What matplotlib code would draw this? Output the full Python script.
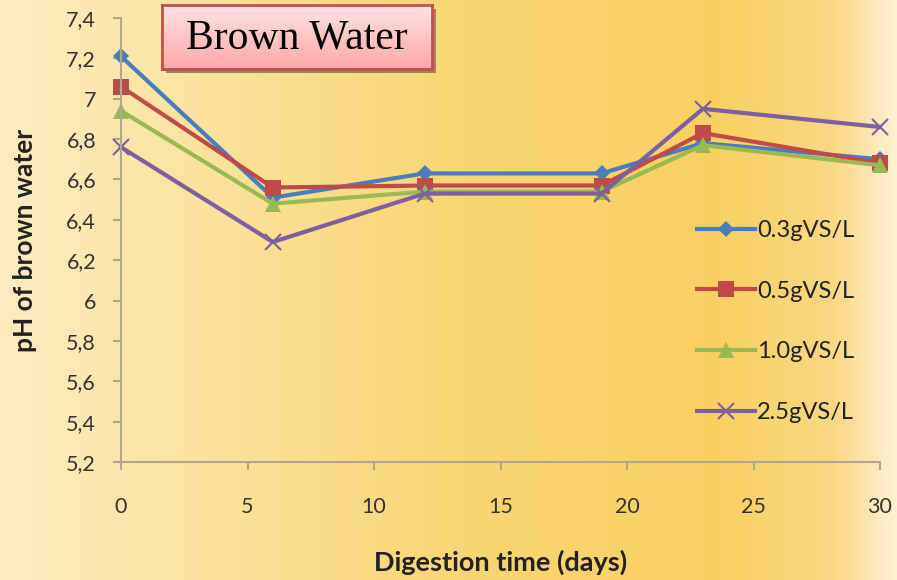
import numpy as np
import matplotlib
matplotlib.use("Agg")
import matplotlib.pyplot as plt
from matplotlib.colors import LinearSegmentedColormap
from matplotlib.patches import Rectangle
from matplotlib.ticker import FuncFormatter

# data
days = [0, 6, 12, 19, 23, 30]
ph_03 = [7.21, 6.51, 6.63, 6.63, 6.78, 6.70]
ph_05 = [7.06, 6.56, 6.57, 6.57, 6.83, 6.68]
ph_10 = [6.94, 6.48, 6.54, 6.54, 6.77, 6.67]
ph_25 = [6.76, 6.29, 6.53, 6.53, 6.95, 6.86]
labels = ['0.3gVS/L', '0.5gVS/L', '1.0gVS/L', '2.5gVS/L']

W, H = 897, 580
fig = plt.figure(figsize=(W / 100, H / 100), dpi=100)

# yellow background gradient
bg = fig.add_axes([0, 0, 1, 1], zorder=-10)
bg_cmap = LinearSegmentedColormap.from_list(
    'bg', [(0, '#fcecbe'), (0.25, '#fae29a'), (0.5, '#f9d676'),
           (0.8, '#f8d062'), (0.93, '#fad884'), (1, '#fdf1d2')])
grad = np.tile(np.linspace(0, 1, 256), (2, 1))
bg.imshow(grad, aspect='auto', cmap=bg_cmap, extent=[0, 1, 0, 1])
bg.axis('off')

ax = fig.add_axes([121 / W, 1 - 462 / H, (880 - 121) / W, (462 - 18) / H])
ax.patch.set_alpha(0)

colors = ['#4a7ebb', '#be4b48', '#98b954', '#7d60a0']
markers = ['D', 's', '^', 'x']
msizes = [8, 11, 11, 12]
series = [ph_03, ph_05, ph_10, ph_25]
for vals, c, m, ms, lab in zip(series, colors, markers, msizes, labels):
    ax.plot(days, vals, color=c, lw=3, marker=m, ms=ms, mew=1.5 if m == 'x' else 0,
            mec=c, mfc=c, label=lab, clip_on=False)

ax.set_xlim(0, 30)
ax.set_ylim(5.2, 7.4)
ax.set_xticks([0, 5, 10, 15, 20, 25, 30])
ax.set_yticks(np.arange(5.2, 7.41, 0.2))
ax.yaxis.set_major_formatter(FuncFormatter(
    lambda v, p: ('%g' % round(v, 1)).replace('.', ',')))

for s in ['top', 'right']:
    ax.spines[s].set_visible(False)
for s in ['left', 'bottom']:
    ax.spines[s].set_color('#b0a78c')
    ax.spines[s].set_linewidth(1.5)
ax.tick_params(colors='#b0a78c', length=6, width=1.5, labelcolor='#333333',
               labelsize=15.5)
ax.tick_params(axis='x', pad=19)
ax.tick_params(axis='y', pad=12)
for t in ax.get_xticklabels() + ax.get_yticklabels():
    t.set_fontfamily('Lato')

ax.set_xlabel('Digestion time (days)', fontsize=19.5, fontweight='bold',
              fontfamily='Lato', color='#222222', labelpad=24)
ax.set_ylabel('pH of brown water', fontsize=19, fontweight='bold',
              fontfamily='Lato', color='#222222', labelpad=21)

leg = ax.legend(loc='upper left', bbox_to_anchor=(0.759, 0.545), frameon=False,
                labelspacing=1.68, handlelength=2.45, handletextpad=0.1,
                borderpad=0, borderaxespad=0,
                prop={'family': 'Lato', 'size': 17})
for t in leg.get_texts():
    t.set_color('#222222')

# title box with shadow
bx, by, bw, bh = 162, 5, 270, 64
fig.patches.append(Rectangle(((bx + 4) / W, 1 - (by + bh + 4) / H), bw / W, bh / H,
                             transform=fig.transFigure, facecolor='#9a8a5a',
                             edgecolor='none', zorder=5))
tax = fig.add_axes([bx / W, 1 - (by + bh) / H, bw / W, bh / H], zorder=6)
pink = LinearSegmentedColormap.from_list('pink', ['#ffe2e2', '#ffa8a8'])
tax.imshow(np.linspace(0, 1, 64).reshape(-1, 1), aspect='auto', cmap=pink,
           extent=[0, 1, 0, 1], origin='upper')
tax.set_xticks([])
tax.set_yticks([])
for s in tax.spines.values():
    s.set_color('#c0504d')
    s.set_linewidth(2)
tax.text(0.5, 0.48, 'Brown Water', ha='center', va='center', fontsize=30,
         fontfamily='Liberation Serif', color='black', transform=tax.transAxes)

fig.savefig('out.png', dpi=100)
